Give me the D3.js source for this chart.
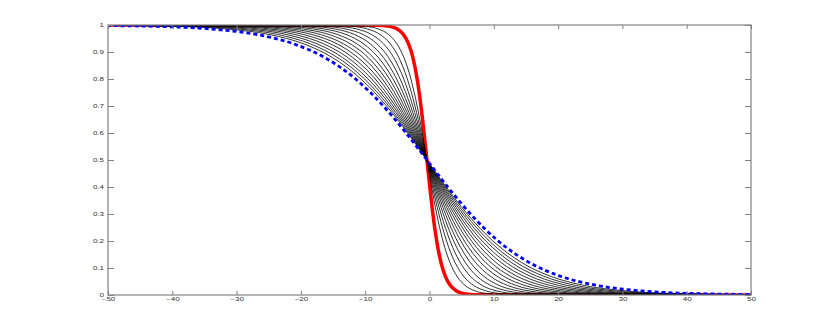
<!DOCTYPE html>
<html><head><meta charset="utf-8">
<script src="https://cdn.jsdelivr.net/npm/d3@7"></script>
<style>html,body{margin:0;padding:0;background:#fff;} svg{display:block;}</style>
</head><body>
<svg id="chart" width="830" height="332"></svg>
<script>
// y value of every sample point (same for all curves)
const levelY = [1,0.999,0.995,0.985,0.965,0.93,0.88,0.8,0.7,0.6,0.5,0.4,0.3,0.2,0.12,0.07,0.035,0.015,0.005,0.001,0];

// x positions where each curve reaches the levels above
const redX = [-50,-8.00,-6.22,-5.00,-4.05,-3.25,-2.59,-1.92,-1.33,-0.85,-0.4,0.05,0.53,1.12,1.79,2.45,3.25,4.20,5.42,7.20,50];
const blueX = [-60,-55.66,-42.74,-33.88,-26.94,-21.10,-16.34,-11.49,-7.18,-3.64,-0.4,2.84,6.38,10.69,15.54,20.30,26.14,33.08,41.94,54.86,60];

const black01 = [-50,-12.83,-9.93,-7.93,-6.37,-5.06,-3.99,-2.89,-1.92,-1.13,-0.4,0.33,1.12,2.09,3.19,4.26,5.57,7.13,9.13,12.03,50];
const black02 = [-50,-15.60,-12.04,-9.61,-7.70,-6.09,-4.78,-3.45,-2.26,-1.29,-0.4,0.49,1.46,2.65,3.98,5.29,6.90,8.81,11.24,14.80,50];
const black03 = [-50,-18.36,-14.16,-11.28,-9.02,-7.13,-5.58,-4.00,-2.60,-1.45,-0.4,0.65,1.80,3.20,4.78,6.33,8.22,10.48,13.36,17.56,50];
const black04 = [-50,-21.12,-16.28,-12.96,-10.35,-8.16,-6.38,-4.56,-2.94,-1.62,-0.4,0.82,2.14,3.76,5.58,7.36,9.55,12.16,15.48,20.32,50];
const black05 = [-50,-23.88,-18.40,-14.63,-11.68,-9.20,-7.17,-5.11,-3.28,-1.78,-0.4,0.98,2.48,4.31,6.37,8.40,10.88,13.83,17.60,23.08,50];
const black06 = [-50,-26.65,-20.51,-16.30,-13.00,-10.23,-7.97,-5.67,-3.62,-1.94,-0.4,1.14,2.82,4.87,7.17,9.43,12.20,15.50,19.71,25.85,50];
const black07 = [-50,-29.41,-22.63,-17.98,-14.33,-11.27,-8.77,-6.22,-3.96,-2.10,-0.4,1.30,3.16,5.42,7.97,10.47,13.53,17.18,21.83,28.61,50];
const black08 = [-50,-32.17,-24.75,-19.65,-15.66,-12.30,-9.56,-6.78,-4.30,-2.26,-0.4,1.46,3.50,5.98,8.76,11.50,14.86,18.85,23.95,31.37,50];
const black09 = [-50,-34.94,-26.87,-21.33,-16.99,-13.34,-10.36,-7.33,-4.64,-2.43,-0.4,1.63,3.84,6.53,9.56,12.54,16.19,20.53,26.07,34.14,50];
const black10 = [-50,-37.70,-28.98,-23.00,-18.31,-14.37,-11.16,-7.88,-4.97,-2.59,-0.4,1.79,4.17,7.08,10.36,13.57,17.51,22.20,28.18,36.90,50];
const black11 = [-50,-40.46,-31.10,-24.67,-19.64,-15.40,-11.95,-8.44,-5.31,-2.75,-0.4,1.95,4.51,7.64,11.15,14.60,18.84,23.87,30.30,39.66,50];
const black12 = [-50,-43.22,-33.22,-26.35,-20.97,-16.44,-12.75,-8.99,-5.65,-2.91,-0.4,2.11,4.85,8.19,11.95,15.64,20.17,25.55,32.42,42.42,50];
const black13 = [-50,-45.99,-35.33,-28.02,-22.29,-17.47,-13.55,-9.55,-5.99,-3.07,-0.4,2.27,5.19,8.75,12.75,16.67,21.49,27.22,34.53,45.19,50];
const black14 = [-50,-48.75,-37.45,-29.70,-23.62,-18.51,-14.34,-10.10,-6.33,-3.24,-0.4,2.44,5.53,9.30,13.54,17.71,22.82,28.90,36.65,47.95,50];
const black15 = [-60,-51.51,-39.57,-31.37,-24.95,-19.54,-15.14,-10.66,-6.67,-3.40,-0.4,2.60,5.87,9.86,14.34,18.74,24.15,30.57,38.77,50.71,60];
const blackCurves = [black01,black02,black03,black04,black05,black06,black07,black08,black09,black10,black11,black12,black13,black14,black15];

const xTicks = [-50,-40,-30,-20,-10,0,10,20,30,40,50];
const yTicks = [0,0.1,0.2,0.3,0.4,0.5,0.6,0.7,0.8,0.9,1];
const yTickLabels = ["0","0.1","0.2","0.3","0.4","0.5","0.6","0.7","0.8","0.9","1"];

const L = 108, R = 751, T = 25, B = 295;
const svg = d3.select("#chart");
const x = d3.scaleLinear().domain([-50, 50]).range([L, R]);
const y = d3.scaleLinear().domain([0, 1]).range([B, T]);

svg.append("defs").append("clipPath").attr("id", "clip")
  .append("rect").attr("x", L).attr("y", T).attr("width", R - L).attr("height", B - T);

const axisColor = "#808080";
const squish = 0.62;

function styleAxis(g) {
  g.select(".domain").remove();
  g.selectAll(".tick line").attr("stroke", axisColor).attr("stroke-width", 1);
  g.selectAll(".tick text").attr("fill", "#333").attr("font-family", "Liberation Sans, Arial, sans-serif").attr("font-size", 8);
}

const line = d3.line().x(d => x(d[0])).y(d => y(d[1])).curve(d3.curveMonotoneX);
const pts = xs => xs.map((v, i) => [v, levelY[i]]);

const plot = svg.append("g").attr("clip-path", "url(#clip)");
plot.append("path").attr("d", line(pts(redX)))
  .attr("fill", "none").attr("stroke", "#ff0000").attr("stroke-width", 3.5);
plot.selectAll("path.black").data(blackCurves).join("path")
  .attr("class", "black")
  .attr("d", d => line(pts(d)))
  .attr("fill", "none").attr("stroke", "#000").attr("stroke-width", 0.8);
plot.append("path").attr("d", line(pts(blueX)))
  .attr("fill", "none").attr("stroke", "#0000ff").attr("stroke-width", 2.8)
  .attr("stroke-dasharray", "4,3");

svg.append("g").attr("transform", `translate(0,${B})`)
  .call(d3.axisBottom(x).tickValues(xTicks).tickSizeInner(-4).tickSizeOuter(0).tickPadding(3.5))
  .call(styleAxis)
  .call(g => g.selectAll(".tick text").attr("transform", `scale(1,${squish})`));
svg.append("g").attr("transform", `translate(0,${T})`)
  .call(d3.axisTop(x).tickValues(xTicks).tickSizeInner(-4).tickSizeOuter(0).tickFormat(""))
  .call(styleAxis);
svg.append("g").attr("transform", `translate(${L},0)`)
  .call(d3.axisLeft(y).tickValues(yTicks).tickSizeInner(-6).tickSizeOuter(0).tickPadding(4)
    .tickFormat((d, i) => yTickLabels[i]))
  .call(styleAxis)
  .call(g => g.selectAll(".tick text").attr("transform", `scale(1,${squish})`));
svg.append("g").attr("transform", `translate(${R},0)`)
  .call(d3.axisRight(y).tickValues(yTicks).tickSizeInner(-6).tickSizeOuter(0).tickFormat(""))
  .call(styleAxis);

svg.append("rect").attr("x", L).attr("y", T).attr("width", R - L).attr("height", B - T)
  .attr("fill", "none").attr("stroke", axisColor).attr("stroke-width", 1.2);
</script>
</body></html>
